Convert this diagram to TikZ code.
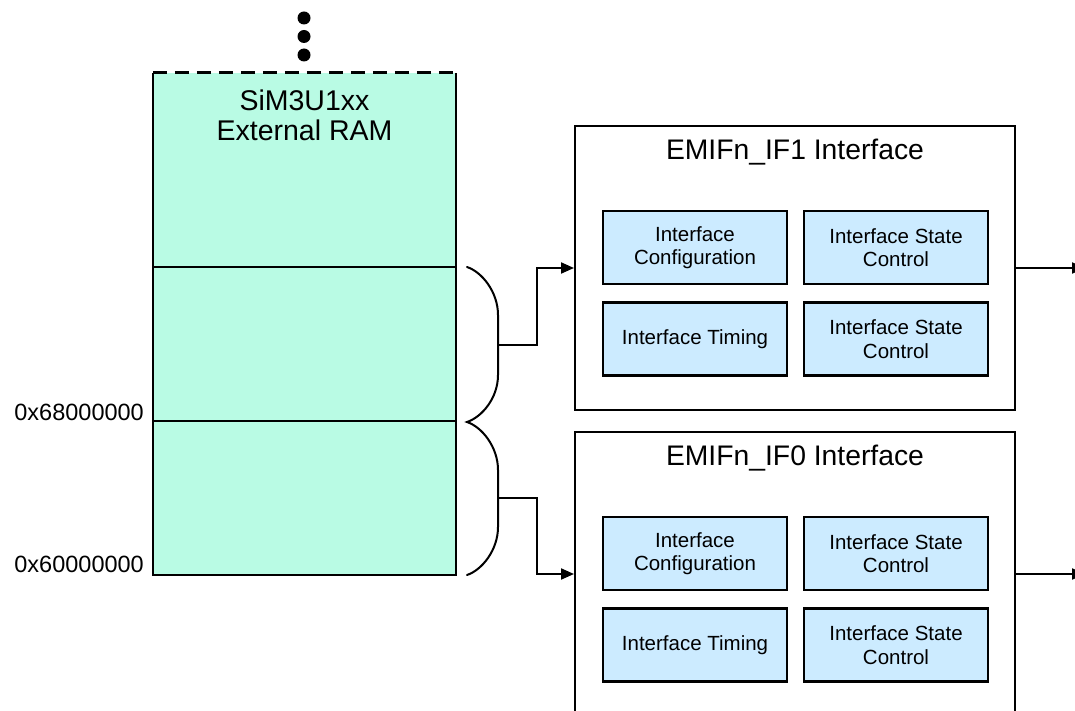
\documentclass[tikz,border=0pt]{standalone}
\usepackage{fontspec}
\setmainfont{Liberation Sans}
\usetikzlibrary{arrows.meta}
\definecolor{ramfill}{HTML}{B9FBE4}
\definecolor{boxfill}{HTML}{CCEBFF}
\tikzset{
  line/.style={line width=2pt, black},
  outerbox/.style={draw, line width=2pt, fill=white, minimum width=440pt, minimum height=284pt, inner sep=0pt},
  innerbox/.style={draw, line width=2.5pt, fill=boxfill, minimum width=184pt, minimum height=73pt, inner sep=0pt, align=center, font=\fontsize{20.5}{23.5}\selectfont},
  titletext/.style={font=\fontsize{28.3}{32}\selectfont, inner sep=0pt},
  addr/.style={anchor=east, font=\fontsize{23.5}{26}\selectfont, inner sep=0pt},
  arr/.style={line, -{Triangle[length=13pt,width=11pt]}},
  brace/.style={line, line cap=round}
}
\begin{document}
\begin{tikzpicture}[x=1pt,y=-1pt]
\useasboundingbox (0,0) rectangle (1075,711);
\clip (0,0) rectangle (1075,711);
% RAM column
\node[fill=ramfill, minimum width=303pt, minimum height=502pt, inner sep=0pt] (ram) at (304.5,324) {};
\draw[line] (ram.north west) -- (ram.south west) -- (ram.south east) -- (ram.north east);
\draw[line, line width=3pt, dash pattern=on 14pt off 8pt] (ram.north west) -- (ram.north east);
\coordinate (d1l) at (153,267); \coordinate (d1r) at (456,267);
\coordinate (d2l) at (153,421); \coordinate (d2r) at (456,421);
\draw[line] (d1l) -- (d1r);
\draw[line] (d2l) -- (d2r);
\node[font=\fontsize{28.5}{30}\selectfont, align=center, inner sep=0pt] (ramtxt) at (304.5,115) {SiM3U1xx\\External RAM};
% dots
\fill (304,18) circle (6.5);
\fill (304,36.5) circle (6.5);
\fill (304,55) circle (6.5);
% address labels
\node[addr] (a68) at (144,412) {0x68000000};
\node[addr] (a60) at (144,564) {0x60000000};
% outer boxes
\node[outerbox] (if1) at (795,268) {};
\node[titletext] (t1) at (795,152) {EMIFn\_IF1 Interface};
\node[outerbox] (if0) at (795,574) {};
\node[titletext] (t0) at (795,458) {EMIFn\_IF0 Interface};
% inner boxes IF1
\node[innerbox] (c1) at (695,247.5) {Interface\\Configuration};
\node[innerbox] (s1) at (896,247.5) {Interface State\\Control};
\node[innerbox] (m1) at (695,339) {Interface Timing};
\node[innerbox] (r1) at (896,339) {Interface State\\Control};
% inner boxes IF0
\node[innerbox] (c0) at (695,553.5) {Interface\\Configuration};
\node[innerbox] (s0) at (896,553.5) {Interface State\\Control};
\node[innerbox] (m0) at (695,645) {Interface Timing};
\node[innerbox] (r0) at (896,645) {Interface State\\Control};
% braces
\coordinate (b1) at (498,345);
\coordinate (b0) at (498,498);
\draw[brace] (467,267) .. controls (482,272) and (498,292) .. (498,315) -- (498,375)
  .. controls (498,398) and (482,417) .. (467,422)
  .. controls (482,427) and (498,447) .. (498,470) -- (498,527)
  .. controls (498,550) and (482,570) .. (467,575);
% connectors
\draw[arr] (b1) -- (537,345) |- (if1.west);
\draw[arr] (b0) -- (537,498) |- (if0.west);
\coordinate (o1) at (1085,268);
\coordinate (o0) at (1085,574);
\draw[arr] (if1.east) -- (o1);
\draw[arr] (if0.east) -- (o0);
\end{tikzpicture}
\end{document}
